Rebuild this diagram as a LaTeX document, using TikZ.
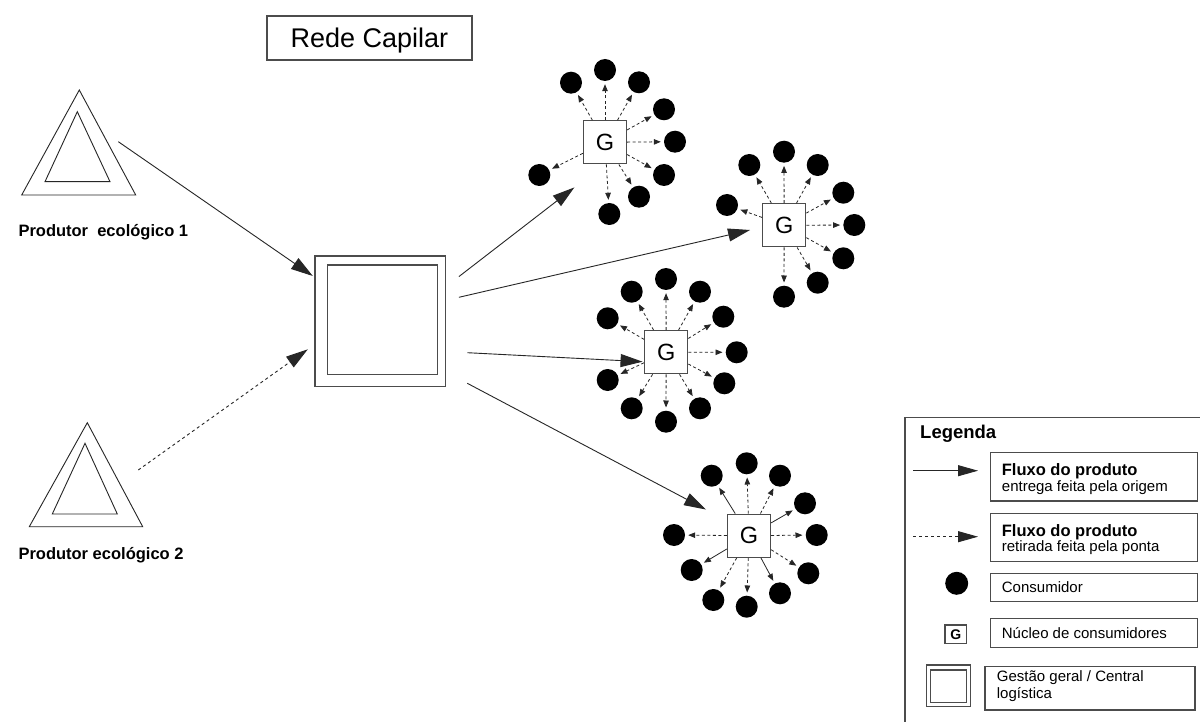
\documentclass[tikz,border=0pt]{standalone}
\usepackage{fontspec}
\setmainfont{Liberation Sans}
\usetikzlibrary{arrows.meta,calc}

\begin{document}
\begin{tikzpicture}[x=1pt,y=-1pt,
  ink/.style={draw=black!85, line width=0.9pt},
  frame/.style={draw=black!70, line width=1.3pt},
  flow/.style={ink, -{Triangle[length=22pt,width=13pt]}},
  pickup/.style={flow, dash pattern=on 3pt off 3pt},
  dot/.style={circle, fill=black, minimum size=22pt, inner sep=0pt},
  core/.style={frame, fill=white, minimum size=43pt, inner sep=0pt,
    font=\fontsize{23.5}{24}\selectfont},
  spoke/.style={draw=black!85, line width=0.8pt, dash pattern=on 3pt off 2.5pt,
    -{Triangle[length=7pt,width=5.5pt]}, shorten >=3pt},
  spokesolid/.style={spoke, solid},
  lab/.style={anchor=base west, inner sep=0pt, font=\bfseries\fontsize{16.5}{18}\selectfont},
  keybox/.style={frame, inner sep=0pt},
  keyhead/.style={anchor=base west, inner sep=0pt, font=\bfseries\fontsize{16.5}{18}\selectfont},
  keytext/.style={anchor=base west, inner sep=0pt, font=\fontsize{15}{16.7}\selectfont}
]
\useasboundingbox (0,0) rectangle (1200,722);
\fill[white] (0,0) rectangle (1200,722);

% title
\node[frame, minimum width=205pt, minimum height=44pt, inner sep=0pt] (titlebox) at (369.5,38) {};
\node[anchor=base, inner sep=0pt, font=\fontsize{27}{30}\selectfont] (title) at (369.5,47.7) {Rede Capilar};

% producers
\draw[ink] (79.3,90) -- (21.7,195) -- (135.7,195) -- cycle;
\draw[ink] (77.3,111.7) -- (45,181.7) -- (110,181.7) -- cycle;
\node[lab] (lab1) at (18.3,236.7) {Produtor\ \ ecológico 1};
\coordinate (p1) at (118.3,141.7);

\draw[ink] (87.3,422.7) -- (29.3,526.7) -- (142.7,526.7) -- cycle;
\draw[ink] (85,443.3) -- (52.3,514) -- (117.3,514) -- cycle;
\node[lab] (lab2) at (18.3,559.3) {Produtor ecológico 2};
\coordinate (p2) at (138.3,470);

% central logistics
\node[frame, minimum size=130.7pt, inner sep=0pt] (c) at (380.3,321.3) {};
\draw[frame] (327.3,265) rectangle (437.3,374.3);

% consumer cores
\node[core] (g1) at (605,142.3) {G};
\node[core] (g2) at (784.2,225.3) {G};
\node[core] (g3) at (666.2,352.2) {G};
\node[core] (g4) at (749,535.7) {G};

\foreach \x/\y [count=\i] in {571/82.7, 605/70, 639/82.3, 664/109.3, 675/141.7,
    664/175, 639/196.7, 609.3/214, 539.3/175}
  \node[dot] (g1d\i) at (\x,\y) {};
\foreach \i in {1,...,9} \draw[spoke] (g1) -- (g1d\i);

\foreach \x/\y [count=\i] in {749.3/165, 784/151.7, 817.7/165, 843.3/192.7, 854.3/225,
    843.3/258.3, 817.7/282.7, 784/296.7, 727/205}
  \node[dot] (g2d\i) at (\x,\y) {};
\foreach \i in {1,...,9} \draw[spoke] (g2) -- (g2d\i);

\foreach \x/\y [count=\i] in {631.7/291.7, 666/279, 700/291.7, 723.3/316.7, 736.7/352.3,
    724.3/383.3, 700/408.3, 666/421.7, 631.7/408.3, 607.7/380, 607.7/318.3}
  \node[dot] (g3d\i) at (\x,\y) {};
\foreach \i in {1,...,11} \draw[spoke] (g3) -- (g3d\i);

\foreach \x/\y [count=\i] in {711.7/475.7, 746.7/463.3, 780/475.7, 805/503.3, 816.7/535,
    808.3/573.3, 780/593.3, 746.7/606.7, 713.3/600, 691.7/570, 674/535}
  \node[dot] (g4d\i) at (\x,\y) {};
\foreach \i/\s in {1/spokesolid, 2/spoke, 3/spoke, 4/spokesolid, 5/spoke, 6/spoke,
    7/spokesolid, 8/spoke, 9/spoke, 10/spokesolid, 11/spoke}
  \draw[\s] (g4) -- (g4d\i);

% product flows
\draw[flow] (p1) -- ($(c.north west)+(-1.5,20.7)$);
\draw[pickup] (p2) -- ($(c.south west)+(-6.5,-38)$);
\draw[flow] ($(c.north east)+(12.6,21.3)$) -- ($(g1.south west)+(-8.5,23)$);
\draw[flow] ($(c.east)+(12.6,-24)$) -- ($(g2.west)+(-12,4.7)$);
\draw[flow] ($(c.east)+(21,31.4)$) -- ($(g3.west)+(-1.5,9.5)$);
\draw[flow] ($(c.south east)+(21,-4)$) -- ($(g4.north west)+(-20.8,-4)$);

% legend
\draw[frame] (905,417.3) rectangle (1215,740);
\node[anchor=base west, inner sep=0pt, font=\bfseries\fontsize{18.5}{20}\selectfont] (legtitle) at (920,438.3) {Legenda};

\coordinate (ls1) at (913,470.7);
\coordinate (le1) at (978,470.7);
\draw[ink, -{Triangle[length=20pt,width=11pt]}] (ls1) -- (le1);
\node[keybox, minimum width=207pt, minimum height=48.3pt] (k1) at (1094.2,476.85) {};
\node[keyhead] (k1a) at (1001.7,475.5) {Fluxo do produto};
\node[keytext] (k1b) at (1001.7,491.7) {entrega feita pela origem};

\coordinate (ls2) at (913,536.7);
\coordinate (le2) at (978,536.7);
\draw[ink, dash pattern=on 3pt off 3pt, -{Triangle[length=20pt,width=11pt]}] (ls2) -- (le2);
\node[keybox, minimum width=207pt, minimum height=48.4pt] (k2) at (1094.2,537.5) {};
\node[keyhead] (k2a) at (1001.7,536) {Fluxo do produto};
\node[keytext] (k2b) at (1001.7,551.7) {retirada feita pela ponta};

\node[dot, minimum size=23pt] (kdot) at (956.7,583.3) {};
\node[keybox, minimum width=207pt, minimum height=28.4pt] (k3) at (1094.2,587.5) {};
\node[keytext] (k3a) at (1001.7,592) {Consumidor};

\node[frame, minimum width=21.7pt, minimum height=18.3pt, inner sep=0pt,
  font=\bfseries\fontsize{14}{14}\selectfont] (kg) at (955.8,634.2) {G};
\node[keybox, minimum width=207pt, minimum height=29pt] (k4) at (1094.2,632.8) {};
\node[keytext] (k4a) at (1001.7,638.3) {Núcleo de consumidores};

\node[frame, minimum width=44pt, minimum height=41.7pt, inner sep=0pt] (kc) at (948.7,685.85) {};
\draw[frame] (930.7,670) rectangle (966.7,702.3);
\node[keybox, minimum width=210pt, minimum height=43.3pt] (k5) at (1090,688.35) {};
\node[keytext, align=left, anchor=north west] (k5a) at (996.7,670.5) {Gestão geral / Central\\logística};
\end{tikzpicture}
\end{document}
